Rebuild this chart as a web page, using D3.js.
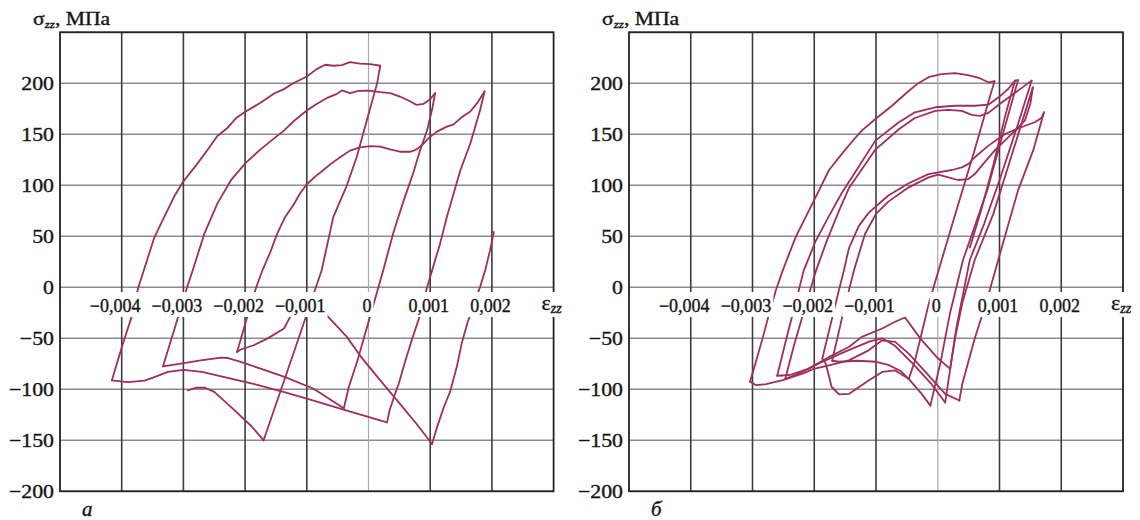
<!DOCTYPE html>
<html><head><meta charset="utf-8">
<script src="https://cdn.jsdelivr.net/npm/d3@7"></script>
<style>
body{margin:0;background:#fff}
svg{display:block}
</style>
</head><body>
<svg id="chart" width="1140" height="520"></svg>
<script>
// ---------- axis data ----------
const strainTicks = [-0.004,-0.003,-0.002,-0.001,0,0.001,0.002];
const strainTickLabels = ["−0,004","−0,003","−0,002","−0,001","0","0,001","0,002"];
const stressTicks = [-200,-150,-100,-50,0,50,100,150,200];
const stressTickLabels = ["−200","−150","−100","−50","0","50","100","150","200"];
const strainDomain = [-0.005,0.003];
const stressDomain = [-200,250];

// ---------- panel а : [strain, stress MPa] ----------
const aU1 = [[-0.00416,-91.3],[-0.00400,-59],[-0.00384,-29],[-0.00373,0],[-0.00364,17],[-0.00347,49],[-0.00331,69],[-0.00315,89],[-0.00301,103],[-0.00277,121.5],[-0.00261,134.6],[-0.00245,148.3],[-0.00229,156],[-0.00215,165.7],[-0.00199,172.3],[-0.00175,181],[-0.00153,190],[-0.00137,194.3],[-0.00122,200],[-0.0010,206.7],[-0.00084,213.9],[-0.00070,218.2],[-0.00057,217.2],[-0.00043,217.9],[-0.00030,220.8],[-0.00014,219.2],[0.00003,218.8],[0.00019,217.2]];
const aD1 = [[0.00019,217.2],[0.00014,200],[0.00008,187],[-0.00019,128],[-0.00035,100],[-0.00057,69],[-0.00076,16.5],[-0.0012,-62],[-0.0017,-150]];
const aL1 = [[-0.0017,-150],[-0.0019,-136],[-0.0022,-119],[-0.0025,-102.5],[-0.00265,-98.5],[-0.0028,-98.5],[-0.00293,-101]];
const aB = [[-0.00416,-91.3],[-0.0039,-93],[-0.00363,-91.5],[-0.00347,-88],[-0.00325,-83],[-0.0030,-81],[-0.0027,-83],[-0.0023,-88.5],[-0.00185,-95],[-0.00135,-103],[-0.00089,-111],[-0.00035,-121],[0.0003,-132.4]];
const aD3 = [[0.0003,-132.4],[0.00034,-121],[0.00041,-108],[0.00049,-94.6],[0.0006,-71.6],[0.0007,-52],[0.00081,-32],[0.00095,0],[0.00103,16.5],[0.00116,42.8],[0.00127,69],[0.00138,92],[0.00149,115],[0.00165,141],[0.00173,157.5],[0.00181,174],[0.00188,192]];
const aU3 = [[-0.00213,-63.4],[-0.00198,-32],[-0.00182,0],[-0.00172,16.5],[-0.00159,34.6],[-0.00148,52.6],[-0.00135,69],[-0.00122,80.5],[-0.00111,92],[-0.0010,101],[-0.00087,108.3],[-0.00073,115],[-0.0006,121.5],[-0.00046,127.4],[-0.0003,134],[-0.00014,137.2],[0.00003,138.5],[0.00019,137.9],[0.00035,135.2],[0.00051,132.9],[0.00068,132.9],[0.00078,135.2],[0.00087,139.5],[0.00097,146],[0.00111,152.6],[0.00127,157.5],[0.00138,159.8],[0.00151,166.7],[0.00165,172.3],[0.00176,180.5],[0.00188,192]];
const aH3 = [[-0.00213,-63.4],[-0.00207,-61],[-0.00186,-56.8],[-0.00164,-50.3],[-0.00137,-40.4],[-0.00127,-29],[-0.0011,-16],[-0.00095,-14],[-0.00068,-27.3],[-0.00035,-48.6],[-0.00014,-66.7],[0.00019,-91.3],[0.00051,-114.3],[0.00078,-134],[0.00103,-153.7]];
const aR3 = [[0.00103,-153.7],[0.00111,-137.3],[0.00122,-117.6],[0.00132,-102.8],[0.00143,-78.2],[0.00151,-55.2],[0.0016,-35.5],[0.00181,0.7],[0.00189,16.5],[0.00197,36.2],[0.00203,54.2]];
const aU2 = [[-0.00333,-77.5],[-0.00314,-40],[-0.00294,0],[-0.00285,16.5],[-0.00266,52.6],[-0.00245,82],[-0.00223,105],[-0.00199,122],[-0.00175,135.2],[-0.00153,146],[-0.00137,153.6],[-0.00122,162.5],[-0.0010,173.3],[-0.00084,179.8],[-0.00068,185.4],[-0.00051,189.7],[-0.00043,193],[-0.0003,190.3],[-0.00016,192.6],[0,192.9],[0.00019,191.3],[0.00035,190.3],[0.00051,187],[0.00068,182.1],[0.00078,178.8],[0.00089,179.8],[0.001,184.4],[0.00108,190.3]];
const aD2 = [[0.00108,190.3],[0.00103,174],[0.00095,154],[0.00084,135],[0.00073,113],[0.00057,85],[0.00041,55],[0.00024,17],[0.00008,-17],[-0.00018,-72],[-0.00032,-98],[-0.0004,-118.6]];
const aA = [[-0.0004,-118.6],[-0.00089,-99.5],[-0.00135,-88],[-0.00175,-79.8],[-0.00207,-73.2],[-0.00229,-69.3],[-0.00239,-69],[-0.00272,-71.6],[-0.00304,-74.9],[-0.00333,-77.5]];

// ---------- panel б : [strain, stress MPa] ----------
const bU1 = [[-0.00304,-92.5],[-0.00294,-72],[-0.00283,-48.6],[-0.00273,-25.6],[-0.00262,-2.6],[-0.00251,16.6],[-0.0023,49.4],[-0.00203,82],[-0.00176,115],[-0.00155,131],[-0.00139,142.7],[-0.00123,153.6],[-0.00101,165],[-0.00074,178],[-0.0005,191],[-0.00034,199],[-0.00015,206],[0.00006,209],[0.00028,210],[0.00049,208],[0.00068,205],[0.00082,201],[0.00092,202]];
const bD1 = [[0.00092,202],[0.00085,188],[0.0006,135],[0.0003,75],[0.00001,16],[-0.00015,-17],[-0.00028,-50],[-0.00037,-72],[-0.00047,-90]];
const bK5 = [[-0.00047,-90],[-0.0006,-82],[-0.0008,-76],[-0.001,-73],[-0.0013,-72],[-0.0016,-73],[-0.00171,-72]];
const bEnd = [[0.00125,202.6],[0.0011,170],[0.0009,120],[0.0007,75],[0.00052,39]];
const bU2 = [[-0.0026,-86.7],[-0.00245,-50],[-0.0023,-15],[-0.00217,16.6],[-0.00198,45],[-0.00176,70],[-0.00155,93],[-0.00139,108],[-0.00101,143.8],[-0.00063,161.8],[-0.00037,171.6],[-0.00004,176.5],[0.00028,178],[0.0006,178],[0.00082,179],[0.00098,186],[0.00114,194.4],[0.00125,202.6],[0.0013,203]];
const bD2 = [[0.0013,203],[0.0011,160],[0.0008,95],[0.0006,60],[0.00041,27],[0.0002,-25],[0.00004,-75],[-0.00012,-116]];
const bLobe = [[-0.00012,-116],[-0.00026,-104.5],[-0.00047,-89.7],[-0.00069,-81.5],[-0.0009,-83],[-0.00112,-91.3],[-0.00144,-104.5],[-0.0016,-105],[-0.00172,-97.5],[-0.00177,-85],[-0.00182,-74],[-0.00187,-70]];
const bU4 = [[-0.00187,-70],[-0.00175,-40],[-0.00163,-10],[-0.00152,16.6],[-0.00144,38],[-0.00128,60],[-0.00112,73],[-0.0008,90],[-0.00047,102],[-0.00015,111],[0.00001,112.7],[0.00023,115],[0.00039,117.6],[0.0005,121],[0.0006,127.5],[0.00082,138.9],[0.00109,150.3],[0.00135,156.9],[0.00157,161.8],[0.00168,166],[0.00172,171.6]];
const bD4 = [[0.00172,171.6],[0.00155,135],[0.0013,95],[0.00098,27],[0.0008,-12],[0.0006,-50],[0.0004,-94],[0.00037,-104],[0.00035,-111]];
const bL1 = [[-0.00304,-92.5],[-0.00294,-96],[-0.00278,-95],[-0.00251,-91],[-0.00219,-84.7],[-0.00201,-80],[-0.00176,-76.5],[-0.00144,-71.6],[-0.00112,-61.8],[-0.0009,-52],[-0.00069,-53.5],[-0.00047,-65],[-0.0002,-83],[0.00012,-104.5],[0.00035,-111]];
const bU5 = [[-0.00171,-72],[-0.00155,-30],[-0.00136,16],[-0.00118,52],[-0.001,72],[-0.0008,84],[-0.00047,98],[-0.00015,107.8],[0.00001,110.4],[0.00017,107.8],[0.00033,105.2],[0.00049,106],[0.0006,111],[0.00071,119],[0.00092,134],[0.00119,150],[0.00141,163.4],[0.0015,180],[0.00154,196]];
const bD5 = [[0.00154,196],[0.0012,130],[0.0009,72],[0.0006,27],[0.0004,-15],[0.00028,-50],[0.0002,-80]];
const bL5 = [[0.0002,-80],[-0.00002,-68.3],[-0.00028,-50.3],[-0.00053,-29.6],[-0.0007,-34],[-0.0009,-40.4],[-0.00123,-48.6],[-0.00144,-58.5],[-0.00175,-68],[-0.0021,-80],[-0.0024,-86],[-0.0026,-86.7]];
const bU3 = [[-0.00247,-90],[-0.00232,-55],[-0.00215,-20],[-0.00197,16.6],[-0.0018,45],[-0.0016,75],[-0.00144,97],[-0.00101,135],[-0.00063,155],[-0.00037,166],[-0.00004,173],[0.00017,174],[0.00039,173],[0.00055,169],[0.00068,168],[0.00082,171],[0.00103,181],[0.0013,192.8],[0.00152,202.6]];
const bD3 = [[0.00152,202.6],[0.0013,160],[0.001,105],[0.00075,62],[0.00052,27],[0.0003,-40],[0.00012,-113]];
const bL3 = [[0.00012,-113],[-0.0001,-95],[-0.0004,-75],[-0.0007,-57],[-0.0009,-50],[-0.0011,-53],[-0.0015,-63],[-0.0019,-74],[-0.0022,-83],[-0.00247,-90]];

const panelASeries = [aU1,aD1,aL1,aB,aD3,aU3,aH3,aR3,aU2,aD2,aA];
const panelBSeries = [bU1,bD1,bK5,bEnd,bU2,bD2,bLobe,bU4,bD4,bL1,bU5,bD5,bL5,bU3,bD3,bL3];
const panelLetters = ["а","б"];

// ---------- drawing ----------
const svg = d3.select("#chart");
const FONT = "'Liberation Serif', 'Times New Roman', serif";
const CURVE = "#9e2f5c";
const INK = "#151515";
const layouts = [
  {x0:60, x1:553.6, series:panelASeries, letter:panelLetters[0]},
  {x0:629, x1:1123, series:panelBSeries, letter:panelLetters[1]}
];
const yTop = 32.3, yBot = 491.3;

function styleText(sel, size) {
  return sel.style("font-family", FONT).attr("font-size", size)
    .attr("fill", INK).attr("stroke", INK).attr("stroke-width", 0.35);
}

layouts.forEach(p => {
  const x = d3.scaleLinear().domain(strainDomain).range([p.x0, p.x1]);
  const y = d3.scaleLinear().domain(stressDomain).range([yBot, yTop]);
  const g = svg.append("g");

  // horizontal grid
  g.append("g").selectAll("line").data(stressTicks.concat([250])).join("line")
    .attr("x1", p.x0).attr("x2", p.x1)
    .attr("y1", d => y(d)).attr("y2", d => y(d))
    .attr("stroke", "#8e8a8a").attr("stroke-width", 1.6);
  // vertical grid
  g.append("g").selectAll("line").data(strainTicks).join("line")
    .attr("x1", d => x(d)).attr("x2", d => x(d))
    .attr("y1", yTop).attr("y2", yBot)
    .attr("stroke", d => d === 0 ? "#a8a8a8" : "#3c3c3c")
    .attr("stroke-width", d => d === 0 ? 1.2 : 1.6);
  // frame
  g.append("rect").attr("x", p.x0).attr("y", yTop)
    .attr("width", p.x1 - p.x0).attr("height", yBot - yTop)
    .attr("fill", "none").attr("stroke", "#222").attr("stroke-width", 1.8);

  // curves
  const line = d3.line().x(d => x(d[0])).y(d => y(d[1]));
  g.append("g").selectAll("path").data(p.series).join("path")
    .attr("d", line).attr("fill", "none")
    .attr("stroke", CURVE).attr("stroke-width", 1.8)
    .attr("stroke-linejoin", "round").attr("stroke-linecap", "round");

  // x tick labels on zero line with white background
  const xl = g.append("g").selectAll("g").data(strainTicks).join("g");
  xl.each(function(d, i) {
    const s = d3.select(this);
    const lab = strainTickLabels[i];
    const neg = lab.startsWith("−");
    const t = styleText(s.append("text"), 18)
      .attr("text-anchor", "middle").attr("y", 311.5)
      .attr("x", x(d) - 1.5 - (neg ? 5 : 0)).text(lab);
    const bb = t.node().getBBox();
    s.insert("rect", "text").attr("x", bb.x - 2).attr("y", 292)
      .attr("width", bb.width + 4).attr("height", 25).attr("fill", "#fff");
  });
  // strain axis label
  const ex = g.append("g");
  const et = styleText(ex.append("text"), 22).attr("x", p.x1 - 12).attr("y", 310);
  et.append("tspan").text("ε");
  et.append("tspan").attr("font-size", 14).attr("font-style", "italic").attr("dy", 3).text("zz");
  const ebb = et.node().getBBox();
  ex.insert("rect", "text").attr("x", ebb.x - 2).attr("y", 292)
    .attr("width", ebb.width + 4).attr("height", 25).attr("fill", "#fff");

  // y tick labels
  styleText(g.append("g").selectAll("text").data(stressTicks).join("text"), 19)
    .attr("text-anchor", "end")
    .attr("transform", d => `translate(${p.x0 - 6},${y(d) + 6.5}) scale(1.15,1)`)
    .text((d, i) => stressTickLabels[i]);

  // y axis title
  const yt = styleText(g.append("text"), 18)
    .attr("transform", `translate(${p.x0 - 27},25) scale(1.2,1)`);
  yt.append("tspan").text("σ");
  yt.append("tspan").attr("font-size", 11).attr("font-style", "italic").attr("dy", 3).text("zz");
  yt.append("tspan").attr("dy", -3).text(", МПа");

  // panel letter
  styleText(g.append("text"), 21).attr("x", p.x0 + 22).attr("y", 516)
    .attr("font-style", "italic").text(p.letter);
});
</script>
</body></html>
